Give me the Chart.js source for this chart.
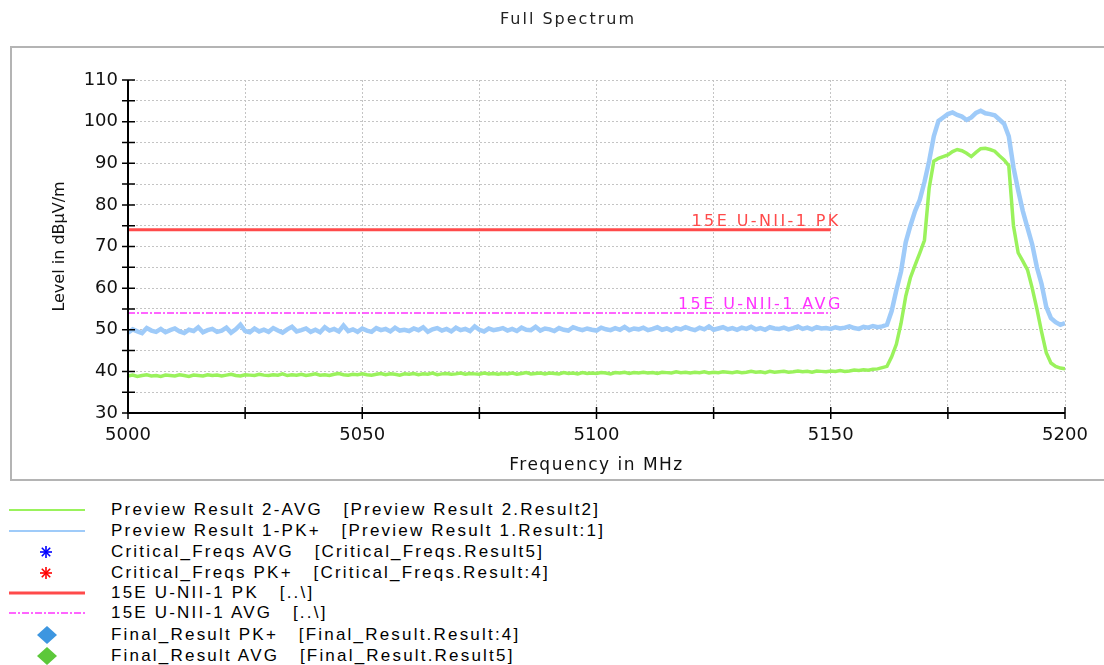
<!DOCTYPE html>
<html>
<head>
<meta charset="utf-8">
<script src="https://cdn.jsdelivr.net/npm/chart.js@4.4.1/dist/chart.umd.min.js"></script>
<style>
body { margin:0; background:#fff; width:1104px; height:665px; overflow:hidden; position:relative; font-family:"Liberation Sans", Arial, sans-serif; }
#wrap { position:absolute; left:0; top:0; width:1104px; height:490px; }
.row { position:absolute; left:0; height:20px; width:760px; }
.row svg { position:absolute; left:0; top:0; }
.row span { position:absolute; left:111px; top:0; font-size:17px; line-height:20px; letter-spacing:2.2px; color:#000; white-space:pre; }
</style>
</head>
<body>
<div id="wrap"><canvas id="spectrum" width="1104" height="490"></canvas></div>
<div id="legend"></div>
<script>
// sweep grid (MHz)
const sweepStart = 5000;
const sweepStep = 1;

// Preview Result 1-PK+ (dBµV/m), one value per MHz
const pkTrace = [
    49.3, 50.1, 49.6, 49.2, 50.4, 49.8, 49.5, 50.2, 49.4, 49.9,
    50.3, 49.6, 49.2, 50.0, 49.7, 50.6, 49.4, 49.9, 50.2, 49.5,
    49.8, 50.5, 49.3, 50.1, 51.2, 49.7, 49.4, 50.3, 49.6, 50.0,
    49.5, 50.4, 49.8, 49.3, 50.1, 50.7, 49.6, 49.9, 50.3, 49.5,
    50.0, 49.4, 50.6, 49.8, 50.2, 49.6, 51.0, 49.7, 50.1, 49.5,
    50.3, 49.8, 49.5, 50.4, 49.9, 50.2, 49.6, 50.5, 49.8, 50.0,
    49.7, 50.3, 49.9, 50.6, 49.5, 50.1, 50.4, 49.8, 50.2, 49.6,
    50.5, 49.9, 50.2, 49.7, 50.8, 50.0, 49.6, 50.3, 49.9, 50.1,
    50.4, 49.8, 50.2, 49.7, 50.5, 50.0, 49.9, 50.7, 49.8, 50.3,
    50.1, 49.7, 50.4, 50.0, 49.8, 50.6, 50.2, 49.9, 50.3, 50.0,
    49.8, 50.5, 50.1, 49.9, 50.4, 50.0, 50.7, 49.9, 50.3, 50.1,
    50.5, 49.9, 50.2, 50.6, 50.0, 50.3, 49.8, 50.4, 50.1, 50.6,
    50.2, 49.9, 50.5, 50.1, 50.8, 50.0, 50.3, 50.6, 50.1, 50.4,
    50.0, 50.5, 50.2, 50.7, 50.1, 50.4, 50.0, 50.6, 50.3, 50.2,
    50.5, 50.1, 50.4, 50.8, 50.2, 50.5, 50.1, 50.6, 50.3, 50.4,
    50.2, 50.6, 50.3, 50.5, 50.8, 50.4, 50.2, 50.7, 50.5, 50.9,
    50.6, 50.8, 51.2, 54.5, 59.5, 64.0, 71.0, 75.0, 78.5, 81.2,
    85.5, 90.5, 96.5, 100.2, 101.0, 101.8, 102.2, 101.6, 101.2, 100.4,
    101.0, 102.1, 102.6, 102.0, 101.8, 101.5, 100.5, 99.5, 96.5, 89.0,
    83.5, 78.5, 74.5, 70.5, 65.0, 61.0, 55.5, 52.8, 51.8, 51.2,
    51.6
];

// Preview Result 2-AVG (dBµV/m), one value per MHz
const avgTrace = [
    38.9, 39.1, 38.8, 39.0, 39.2, 38.9, 39.0, 38.8, 39.1, 39.0,
    38.9, 39.2, 39.0, 38.8, 39.1, 39.0, 38.9, 39.2, 39.0, 39.1,
    38.9, 39.1, 39.3, 39.0, 38.9, 39.2, 39.1, 39.0, 39.3, 39.1,
    39.0, 39.2, 39.1, 39.4, 39.0, 39.2, 39.1, 39.3, 39.0, 39.2,
    39.4, 39.1, 39.2, 39.0, 39.3, 39.5, 39.2, 39.1, 39.3, 39.2,
    39.4, 39.2, 39.1, 39.3, 39.5, 39.2, 39.4, 39.3, 39.1, 39.4,
    39.3, 39.5, 39.2, 39.4, 39.3, 39.6, 39.2, 39.4, 39.5, 39.3,
    39.4, 39.6, 39.3, 39.5, 39.4, 39.3, 39.6, 39.4, 39.5, 39.3,
    39.5, 39.4, 39.6, 39.3, 39.5, 39.7, 39.4, 39.5, 39.6, 39.4,
    39.6, 39.5, 39.4, 39.7, 39.5, 39.6, 39.4, 39.7, 39.5, 39.6,
    39.5, 39.7, 39.6, 39.4, 39.7, 39.6, 39.8, 39.5, 39.7, 39.6,
    39.8, 39.6, 39.7, 39.5, 39.8, 39.7, 39.6, 39.9, 39.7, 39.8,
    39.6, 39.8, 39.7, 39.9, 39.6, 39.8, 39.7, 39.9, 39.8, 39.7,
    39.9, 39.7, 39.8, 40.0, 39.8, 39.9, 39.7, 40.0, 39.8, 39.9,
    40.0, 39.8, 39.9, 40.1, 39.9, 40.0, 39.8, 40.1, 40.0, 39.9,
    40.1, 40.0, 40.2, 40.0, 40.1, 40.3, 40.2, 40.4, 40.3, 40.5,
    40.6, 40.9, 41.2, 43.5, 46.5, 51.5, 58.0, 62.5, 65.5, 68.4,
    71.5, 84.0, 90.5, 91.2, 91.6, 92.0, 92.8, 93.3, 93.0, 92.4,
    91.6, 92.6, 93.5, 93.6, 93.3, 92.9, 91.8, 90.8, 89.4, 75.0,
    68.5, 66.5, 64.4, 60.0, 55.0, 49.5, 44.5, 42.0, 41.2, 40.8,
    40.6
];

// limit lines
const limitFreqs = [5000, 5150];
const pkLimit = [74, 74];
const avgLimit = [54, 54];
const pkLimitLabel = '15E U-NII-1 PK';
const avgLimitLabel = '15E U-NII-1 AVG';

const legendLabels = [
    'Preview Result 2-AVG   [Preview Result 2.Result2]',
    'Preview Result 1-PK+   [Preview Result 1.Result:1]',
    'Critical_Freqs AVG   [Critical_Freqs.Result5]',
    'Critical_Freqs PK+   [Critical_Freqs.Result:4]',
    '15E U-NII-1 PK   [..\\]',
    '15E U-NII-1 AVG   [..\\]',
    'Final_Result PK+   [Final_Result.Result:4]',
    'Final_Result AVG   [Final_Result.Result5]'
];

const GREEN = '#9af25c';
const BLUE = '#9fcbf9';
const RED = '#ff4a4a';
const MAGENTA = '#ff33ff';

function toPoints(values) {
    return values.map((v, i) => ({ x: sweepStart + i * sweepStep, y: v }));
}
function limitPoints(values) {
    return values.map((v, i) => ({ x: limitFreqs[i], y: v }));
}

const chartDecor = {
    id: 'chartDecor',
    beforeDraw(chart) {
        const ctx = chart.ctx;
        ctx.save();
        ctx.fillStyle = '#fff';
        ctx.fillRect(0, 0, chart.width, chart.height);
        ctx.strokeStyle = '#b4b4b4';
        ctx.lineWidth = 2;
        ctx.strokeRect(11, 47, 1110, 433);
        ctx.fillStyle = '#222';
        ctx.font = '16px "DejaVu Sans"';
        ctx.letterSpacing = '2px';
        ctx.textAlign = 'center';
        ctx.textBaseline = 'middle';
        ctx.fillText('Full Spectrum', 568, 20);
        ctx.restore();
    },
    afterDraw(chart) {
        const ctx = chart.ctx;
        const xs = chart.scales.x, ys = chart.scales.y;
        const a = chart.chartArea;
        ctx.save();
        // axes
        ctx.strokeStyle = '#000';
        ctx.lineWidth = 2;
        ctx.beginPath();
        ctx.moveTo(a.left, a.top);
        ctx.lineTo(a.left, a.bottom);
        ctx.lineTo(a.right, a.bottom);
        ctx.stroke();
        ctx.lineWidth = 1.5;
        ctx.beginPath();
        ys.ticks.forEach(t => {
            const y = ys.getPixelForValue(t.value);
            ctx.moveTo(a.left - 6, y);
            ctx.lineTo(a.left + 7, y);
        });
        xs.ticks.forEach(t => {
            const x = xs.getPixelForValue(t.value);
            ctx.moveTo(x, a.bottom - 6);
            ctx.lineTo(x, a.bottom + 6);
        });
        ctx.stroke();

        // axis titles
        ctx.fillStyle = '#111';
        ctx.textAlign = 'center';
        ctx.textBaseline = 'middle';
        ctx.font = '17px "DejaVu Sans"';
        ctx.letterSpacing = '1.5px';
        ctx.fillText('Frequency in MHz', (a.left + a.right) / 2, 466);
        ctx.save();
        ctx.translate(60, (a.top + a.bottom) / 2);
        ctx.rotate(-Math.PI / 2);
        ctx.font = '16px "DejaVu Sans"';
        ctx.letterSpacing = '0px';
        ctx.fillText('Level in dBµV/m', 0, 0);
        ctx.restore();

        // limit labels
        ctx.font = '16px "DejaVu Sans"';
        ctx.letterSpacing = '2.4px';
        ctx.textAlign = 'right';
        ctx.textBaseline = 'alphabetic';
        const labelX = xs.getPixelForValue(limitFreqs[1]) + 10;
        ctx.fillStyle = RED;
        ctx.fillText(pkLimitLabel, labelX, ys.getPixelForValue(pkLimit[1]) - 4);
        ctx.fillStyle = MAGENTA;
        ctx.fillText(avgLimitLabel, labelX + 2, ys.getPixelForValue(avgLimit[1]) - 4);
        ctx.restore();
    }
};

const tickFont = { family: 'DejaVu Sans', size: 18 };

new Chart(document.getElementById('spectrum'), {
    type: 'line',
    data: {
        datasets: [
            { label: 'Preview Result 2-AVG', data: toPoints(avgTrace), borderColor: GREEN, borderWidth: 3.5, pointRadius: 0 },
            { label: 'Preview Result 1-PK+', data: toPoints(pkTrace), borderColor: BLUE, borderWidth: 4.5, pointRadius: 0 },
            { label: pkLimitLabel, data: limitPoints(pkLimit), borderColor: RED, borderWidth: 3, pointRadius: 0 },
            { label: avgLimitLabel, data: limitPoints(avgLimit), borderColor: MAGENTA, borderWidth: 1.5, borderDash: [7, 2, 2, 2], pointRadius: 0 }
        ]
    },
    options: {
        responsive: false,
        animation: false,
        devicePixelRatio: 1,
        layout: { padding: { left: 10, right: 39, top: 80, bottom: 10 } },
        plugins: { legend: { display: false }, tooltip: { enabled: false }, title: { display: false } },
        scales: {
            x: {
                type: 'linear', min: 5000, max: 5200,
                afterFit: s => { s.height = 67; },
                ticks: { stepSize: 25, autoSkip: false, maxRotation: 0, padding: 12, color: '#111', font: tickFont,
                    callback: v => v % 50 === 0 ? String(v) : '' },
                grid: { color: '#c4c4c4', lineWidth: 1, drawTicks: false },
                border: { display: false, dash: [2, 2] }
            },
            y: {
                min: 30, max: 110,
                afterFit: s => { s.width = 118; },
                ticks: { stepSize: 5, autoSkip: false, padding: 10, color: '#111', font: tickFont,
                    callback: v => v % 10 === 0 ? String(v) : '' },
                grid: { color: '#c4c4c4', lineWidth: 1, drawTicks: false },
                border: { display: false, dash: [2, 2] }
            }
        }
    },
    plugins: [chartDecor]
});

// legend below the chart
const legendRows = [510, 531, 552, 573, 593, 613, 635, 656];
const legendSymbols = [
    `<line x1="9" y1="10" x2="85" y2="10" stroke="${GREEN}" stroke-width="2"/>`,
    `<line x1="9" y1="10" x2="85" y2="10" stroke="${BLUE}" stroke-width="2"/>`,
    '<g stroke="#0000ff" stroke-width="1.6"><line x1="46" y1="4" x2="46" y2="16"/><line x1="40" y1="10" x2="52" y2="10"/><line x1="41.8" y1="5.8" x2="50.2" y2="14.2"/><line x1="50.2" y1="5.8" x2="41.8" y2="14.2"/></g>',
    '<g stroke="#ff0000" stroke-width="1.6"><line x1="46" y1="4" x2="46" y2="16"/><line x1="40" y1="10" x2="52" y2="10"/><line x1="41.8" y1="5.8" x2="50.2" y2="14.2"/><line x1="50.2" y1="5.8" x2="41.8" y2="14.2"/></g>',
    `<line x1="9" y1="10" x2="85" y2="10" stroke="${RED}" stroke-width="3"/>`,
    `<line x1="9" y1="10" x2="85" y2="10" stroke="${MAGENTA}" stroke-width="1.5" stroke-dasharray="7 2 2 2"/>`,
    '<polygon points="47,1 57,10 47,19 37,10" fill="#3d96e0"/>',
    '<polygon points="47,1 57,10 47,19 37,10" fill="#5cc83a"/>'
];
const legendEl = document.getElementById('legend');
legendLabels.forEach((text, i) => {
    const row = document.createElement('div');
    row.className = 'row';
    row.style.top = (legendRows[i] - 10) + 'px';
    row.innerHTML = `<svg width="100" height="20">${legendSymbols[i]}</svg>`;
    const span = document.createElement('span');
    span.textContent = text;
    row.appendChild(span);
    legendEl.appendChild(row);
});
</script>
</body>
</html>
